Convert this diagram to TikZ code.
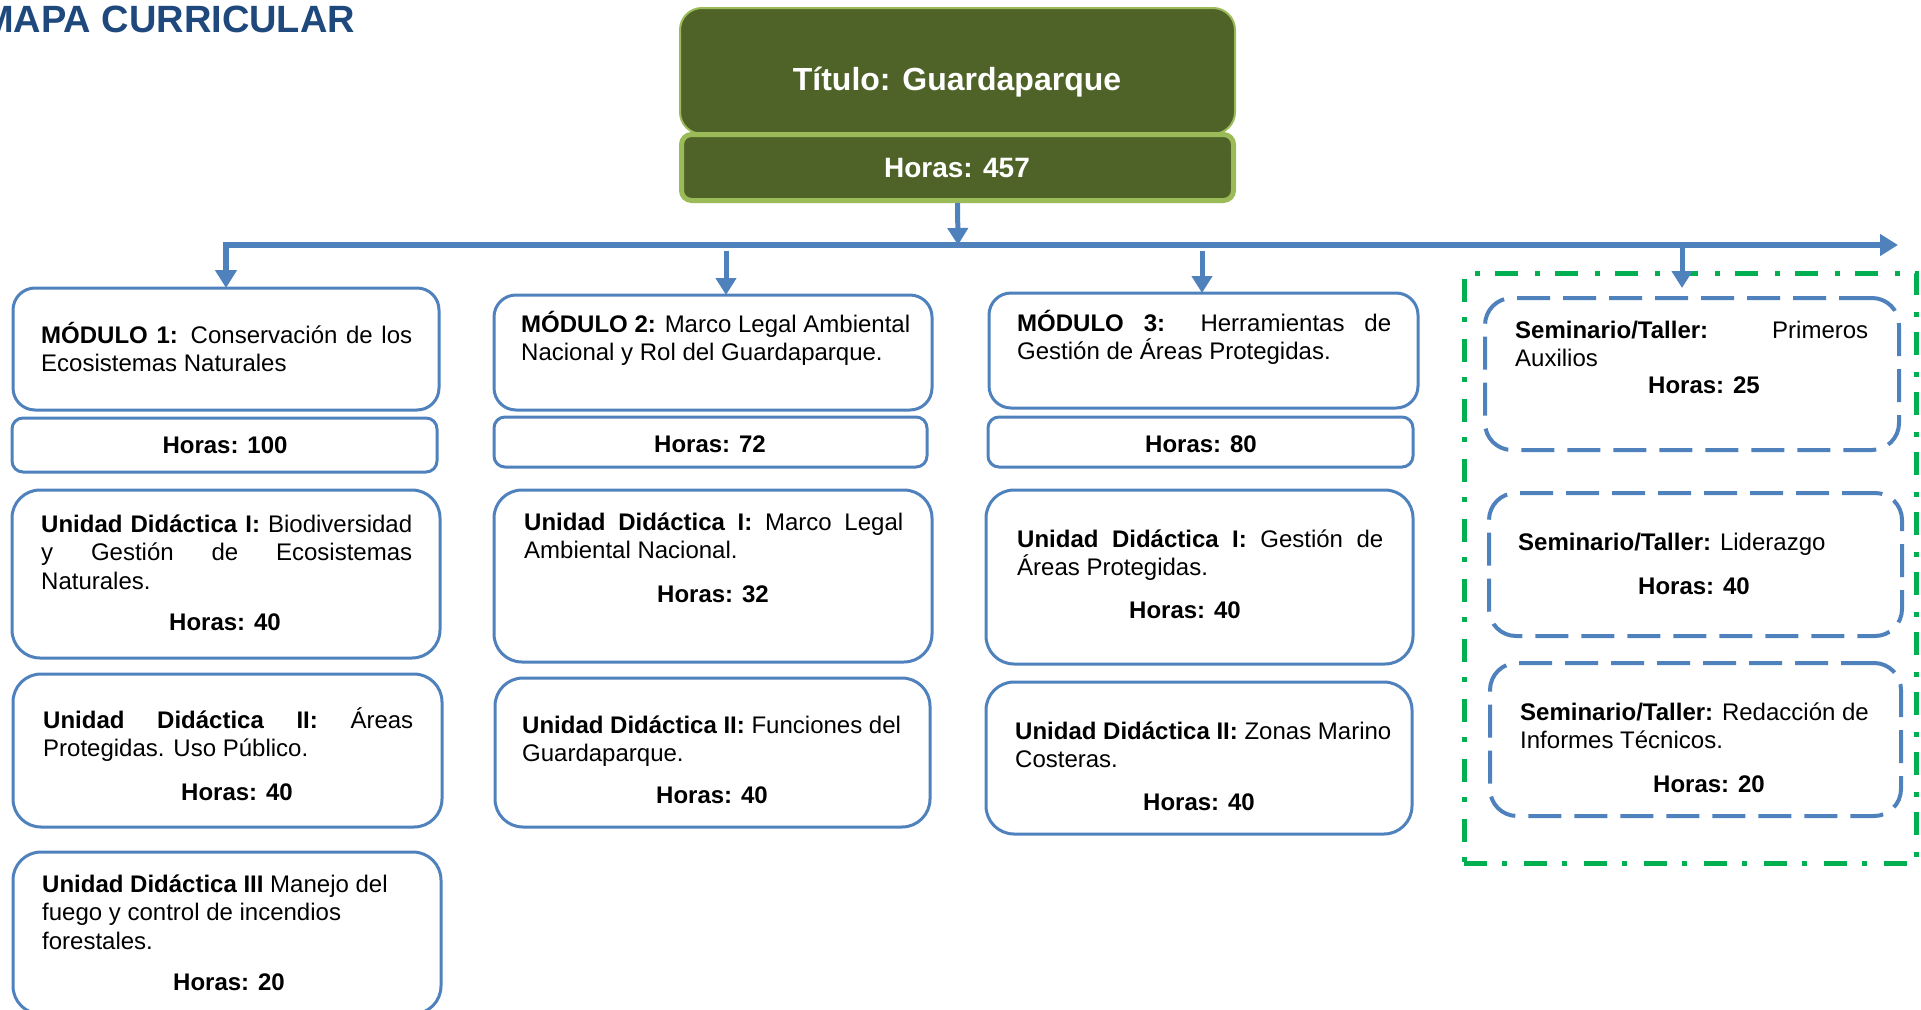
\documentclass[tikz,border=0pt]{standalone}
\usepackage{fontspec}
\setmainfont{Liberation Sans}
\usetikzlibrary{arrows.meta,calc}
\definecolor{olivebox}{RGB}{79,98,40}
\definecolor{lgreen}{RGB}{155,187,89}
\definecolor{bl}{RGB}{79,129,189}
\definecolor{gr}{RGB}{0,176,80}
\definecolor{titleblue}{RGB}{31,73,125}
\newcommand{\Jline}[2]{\makebox[#1][s]{#2}}
\begin{document}
\begin{tikzpicture}[x=1pt,y=-1pt,
  box/.style={draw=bl, line width=3pt, rounded corners=22pt, inner sep=0, outer sep=0, fill=white},
  hbx/.style={draw=bl, line width=3pt, rounded corners=11pt, inner sep=0, outer sep=0, fill=white},
  ubox/.style={draw=bl, line width=3pt, rounded corners=28pt, inner sep=0, outer sep=0, fill=white},
  sbox/.style={draw=bl, line width=4pt, rounded corners=27pt, dash pattern=on 33pt off 13pt, inner sep=0, outer sep=0},
  txt/.style={anchor=base west, inner sep=0, font=\fontsize{24}{28.5}\selectfont},
  hrs/.style={anchor=base, inner sep=0, font=\fontsize{24}{28.5}\selectfont\bfseries},
  conn/.style={draw=bl, line width=5pt, -{Triangle[width=20pt,length=17pt]}},
  bar/.style={draw=bl, line width=6pt, -{Triangle[width=21pt,length=18pt]}}
]
\useasboundingbox (0,0) rectangle (1921,1009);

% title
\node[anchor=base west, inner sep=0, text=titleblue, font=\fontsize{38}{44}\selectfont\bfseries] (maptitle) at (-18,32) {MAPA CURRICULAR};

% top boxes
\node[draw=lgreen, line width=2pt, fill=olivebox, rounded corners=22pt, minimum width=555pt, minimum height=126pt, inner sep=0] (tbox) at (957.5,71) {};
\node[draw=lgreen, line width=5pt, fill=olivebox, rounded corners=10pt, minimum width=552pt, minimum height=66pt, inner sep=0] (hbox) at (957.5,167.5) {};
\node[anchor=base, inner sep=0, text=white, font=\fontsize{32}{38}\selectfont\bfseries] (ttxt) at (957,90) {Título: Guardaparque};
\node[anchor=base, inner sep=0, text=white, font=\fontsize{28}{34}\selectfont\bfseries] (htxt) at (957,177) {Horas: 457};

% green dash-dot frame
\node[draw=gr, line width=5pt, dash pattern=on 23pt off 15pt on 5pt off 17pt, minimum width=452pt, minimum height=590pt, inner sep=0] (frame) at (1690,568) {};

% module 1 column
\node[box, minimum width=426pt, minimum height=122pt] (m1) at (226,349) {};
\node[hbx, minimum width=425pt, minimum height=54pt] (m1h) at (224.5,445) {};
\node[ubox, minimum width=428pt, minimum height=168pt] (m1u1) at (226,574) {};
\node[ubox, minimum width=429pt, minimum height=153pt] (m1u2) at (227.5,750.5) {};
\node[ubox, minimum width=428pt, minimum height=162pt] (m1u3) at (227,933) {};

% module 2 column
\node[box, minimum width=438pt, minimum height=115pt] (m2) at (713,352.5) {};
\node[hbx, minimum width=433pt, minimum height=50pt] (m2h) at (710.5,442) {};
\node[ubox, minimum width=438pt, minimum height=172pt] (m2u1) at (713,576) {};
\node[ubox, minimum width=435pt, minimum height=149pt] (m2u2) at (712.5,752.5) {};

% module 3 column
\node[box, minimum width=429pt, minimum height=115pt] (m3) at (1203.5,350.5) {};
\node[hbx, minimum width=425pt, minimum height=50pt] (m3h) at (1200.5,442) {};
\node[ubox, minimum width=427pt, minimum height=174pt] (m3u1) at (1199.5,577) {};
\node[ubox, minimum width=426pt, minimum height=152pt] (m3u2) at (1199,758) {};

% seminars
\node[sbox, minimum width=414pt, minimum height=152pt] (s1) at (1692,374) {};
\node[sbox, minimum width=413pt, minimum height=143pt] (s2) at (1695.5,564.5) {};
\node[sbox, minimum width=411pt, minimum height=153pt] (s3) at (1695.5,739.5) {};

% texts module 1
\node[txt] (t1) at (41,343) {\parbox[t]{400pt}{\Jline{371pt}{\textbf{MÓDULO 1:} Conservación de los}\\Ecosistemas Naturales}};
\node[hrs] (h1) at (225,453) {Horas: 100};
\node[txt] (t11) at (41,532) {\parbox[t]{400pt}{\Jline{371pt}{\textbf{Unidad Didáctica I:} Biodiversidad}\\\Jline{371pt}{y Gestión de Ecosistemas}\\Naturales.}};
\node[hrs] (h11) at (225,630) {Horas: 40};
\node[txt] (t12) at (43,728) {\parbox[t]{400pt}{\Jline{370pt}{\textbf{Unidad Didáctica II:} Áreas}\\Protegidas. Uso Público.}};
\node[hrs] (h12) at (237,800) {Horas: 40};
\node[txt] (t13) at (42,892) {\parbox[t]{400pt}{\textbf{Unidad Didáctica III} Manejo del\\fuego y control de incendios\\forestales.}};
\node[hrs] (h13) at (229,990) {Horas: 20};

% texts module 2
\node[txt] (t2) at (521,332) {\parbox[t]{420pt}{\textbf{MÓDULO 2:} Marco Legal Ambiental\\Nacional y Rol del Guardaparque.}};
\node[hrs] (h2) at (710,452) {Horas: 72};
\node[txt] (t21) at (524,530) {\parbox[t]{400pt}{\Jline{379pt}{\textbf{Unidad Didáctica I:} Marco Legal}\\Ambiental Nacional.}};
\node[hrs] (h21) at (713,602) {Horas: 32};
\node[txt] (t22) at (522,733) {\parbox[t]{420pt}{\textbf{Unidad Didáctica II:} Funciones del\\Guardaparque.}};
\node[hrs] (h22) at (712,803) {Horas: 40};

% texts module 3
\node[txt] (t3) at (1017,331) {\parbox[t]{400pt}{\Jline{374pt}{\textbf{MÓDULO 3:} Herramientas de}\\Gestión de Áreas Protegidas.}};
\node[hrs] (h3) at (1201,452) {Horas: 80};
\node[txt] (t31) at (1017,547) {\parbox[t]{400pt}{\Jline{366pt}{\textbf{Unidad Didáctica I:} Gestión de}\\Áreas Protegidas.}};
\node[hrs] (h31) at (1185,618) {Horas: 40};
\node[txt] (t32) at (1015,739) {\parbox[t]{400pt}{\textbf{Unidad Didáctica II:} Zonas Marino\\Costeras.}};
\node[hrs] (h32) at (1199,810) {Horas: 40};

% seminar texts
\node[txt] (ts1) at (1515,338) {\parbox[t]{400pt}{\Jline{353pt}{\textbf{Seminario/Taller:} Primeros}\\Auxilios}};
\node[hrs] (hs1) at (1704,393) {Horas: 25};
\node[txt] (ts2) at (1518,550) {\textbf{Seminario/Taller:} Liderazgo};
\node[hrs] (hs2) at (1694,594) {Horas: 40};
\node[txt] (ts3) at (1520,720) {\parbox[t]{400pt}{\textbf{Seminario/Taller:} Redacción de\\Informes Técnicos.}};
\node[hrs] (hs3) at (1709,792) {Horas: 20};

% connectors
\coordinate (hub) at (958,245);
\coordinate (rjoin) at (1682,245);
\coordinate (rend) at (1898,245);
\coordinate (c2) at (726,251);
\coordinate (c3) at (1202,251);
\coordinate (sarrow) at (1682,288);

\draw[conn] (hbox.south) -- (hub);
\draw[bar] (hub) -| (m1.north);
\draw[bar] (hub) -- (rend);
\draw[conn] (rjoin) -- (sarrow);
\draw[conn] (c2) -- (c2 |- m2.north);
\draw[conn] (c3) -- (c3 |- m3.north);
\end{tikzpicture}
\end{document}
